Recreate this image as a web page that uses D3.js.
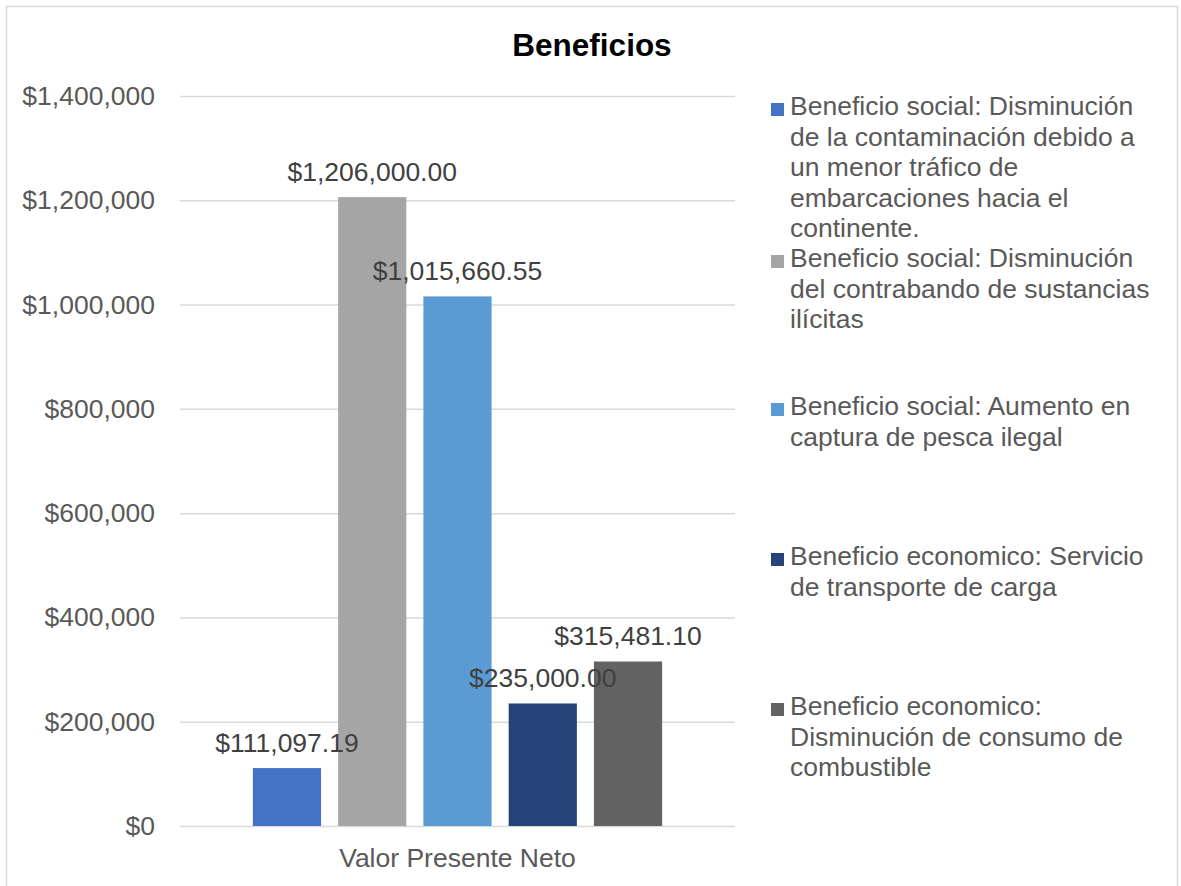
<!DOCTYPE html>
<html>
<head>
<meta charset="utf-8">
<script src="https://cdn.jsdelivr.net/npm/d3@7"></script>
<style>
  body { margin: 0; background: #fff; }
  text { font-family: "Liberation Sans", Arial, sans-serif; }
</style>
</head>
<body>
<svg id="chart"></svg>
<script>
// datos
const categoria = "Valor Presente Neto";
const series = [
  "Beneficio social: Disminución de la contaminación debido a un menor tráfico de embarcaciones hacia el continente.",
  "Beneficio social: Disminución del contrabando de sustancias ilícitas",
  "Beneficio social: Aumento en captura de pesca ilegal",
  "Beneficio economico: Servicio de transporte de carga",
  "Beneficio economico: Disminución de consumo de combustible"
];
const seriesLines = [
  ["Beneficio social: Disminución", "de la contaminación debido a", "un menor tráfico de", "embarcaciones hacia el", "continente."],
  ["Beneficio social: Disminución", "del contrabando de sustancias", "ilícitas"],
  ["Beneficio social: Aumento en", "captura de pesca ilegal"],
  ["Beneficio economico: Servicio", "de transporte de carga"],
  ["Beneficio economico:", "Disminución de consumo de", "combustible"]
];
const valores = [111097.19, 1206000.00, 1015660.55, 235000.00, 315481.10];
const colores = ["#4472C4", "#A5A5A5", "#5B9BD5", "#264478", "#636363"];
const yTicks = [0, 200000, 400000, 600000, 800000, 1000000, 1200000, 1400000];

const width = 1181, height = 886;

const svg = d3.select("#chart")
    .attr("width", width)
    .attr("height", height);

// marco
svg.append("rect")
    .attr("x", 6.5).attr("y", 6.5)
    .attr("width", 1171).attr("height", 900)
    .attr("fill", "#fff")
    .attr("stroke", "#d9d9d9")
    .attr("stroke-width", 1.5);

const y = d3.scaleLinear()
    .domain([0, 1400000])
    .range([826, 96]);

const x0 = d3.scaleBand()
    .domain([categoria])
    .range([180, 735])
    .paddingInner(0)
    .paddingOuter(0.178);

const x1 = d3.scaleBand()
    .domain(d3.range(valores.length))
    .range([0, x0.bandwidth()])
    .paddingInner(0.2);

svg.append("text")
    .attr("x", 592).attr("y", 56)
    .attr("text-anchor", "middle")
    .attr("font-size", "31.5px")
    .attr("font-weight", "bold")
    .attr("fill", "#000")
    .text("Beneficios");

// eje y + cuadricula
const fmt = d => "$" + d3.format(",")(d);
const yAxis = svg.append("g")
    .attr("transform", "translate(180,0)")
    .call(d3.axisLeft(y).tickValues(yTicks).tickFormat(fmt).tickSize(-555).tickPadding(25));
yAxis.select(".domain").remove();
yAxis.selectAll(".tick line").attr("stroke", "#d9d9d9").attr("stroke-width", 1.5);
yAxis.selectAll(".tick text")
    .attr("fill", "#595959")
    .attr("font-size", "26.5px")
    .attr("font-family", "Liberation Sans, Arial, sans-serif");

// eje x
const xAxis = svg.append("g")
    .attr("transform", "translate(0,826)")
    .call(d3.axisBottom(x0).tickSize(0).tickPadding(22));
xAxis.select(".domain").remove();
xAxis.selectAll(".tick text")
    .attr("fill", "#595959")
    .attr("font-size", "26.5px")
    .attr("font-family", "Liberation Sans, Arial, sans-serif");

const g = svg.append("g")
    .attr("transform", "translate(" + x0(categoria) + ",0)");

g.selectAll("rect.bar")
    .data(valores)
    .enter().append("rect")
    .attr("class", "bar")
    .attr("x", (d, i) => x1(i))
    .attr("y", d => y(d))
    .attr("width", x1.bandwidth())
    .attr("height", d => y(0) - y(d))
    .attr("fill", (d, i) => colores[i]);

const fmtLabel = d => "$" + d3.format(",.2f")(d);
g.selectAll("text.lbl")
    .data(valores)
    .enter().append("text")
    .attr("class", "lbl")
    .attr("x", (d, i) => x1(i) + x1.bandwidth() / 2)
    .attr("y", d => y(d) - 16)
    .attr("text-anchor", "middle")
    .attr("font-size", "26.5px")
    .attr("fill", "#404040")
    .text(fmtLabel);

// leyenda
const legend = svg.append("g").attr("transform", "translate(771,0)");
const ly = d3.scaleLinear().domain([0, 4]).range([115, 715]);

const items = legend.selectAll("g.item")
    .data(series)
    .enter().append("g")
    .attr("class", "item")
    .attr("transform", (d, i) => "translate(0," + (ly(i) + (i === 1 ? 2 : 0)) + ")");

items.append("rect")
    .attr("x", 0).attr("y", -12)
    .attr("width", 13).attr("height", 13)
    .attr("fill", (d, i) => colores[i]);

items.append("text")
    .attr("x", 19)
    .attr("font-size", "26.5px")
    .attr("fill", "#595959")
    .selectAll("tspan")
    .data((d, i) => seriesLines[i])
    .enter().append("tspan")
    .attr("x", 19)
    .attr("dy", (d, j) => j === 0 ? 0 : 30.6)
    .text(d => d);
</script>
</body>
</html>
